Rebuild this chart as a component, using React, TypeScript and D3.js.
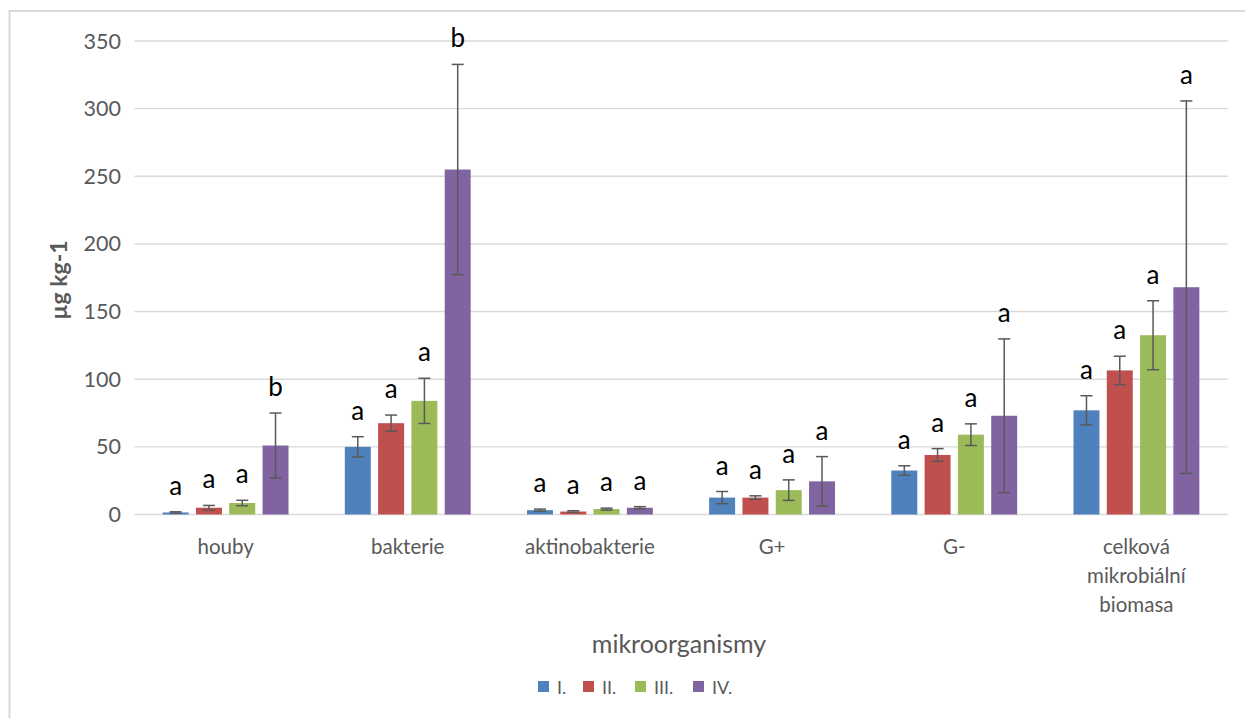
import React from "react";
import * as d3 from "d3";

// Microorganism groups (last label wraps over three lines)
const categories = ["houby", "bakterie", "aktinobakterie", "G+", "G-", "celková mikrobiální biomasa"];
const categoryLines = [["houby"], ["bakterie"], ["aktinobakterie"], ["G+"], ["G-"], ["celková", "mikrobiální", "biomasa"]];

const seriesNames = ["I.", "II.", "III.", "IV."];
const seriesColors = ["#4f81bd", "#c0504d", "#9bbb59", "#8064a2"];

// Means (µg kg-1)
const valuesI = [1.5, 50, 3.2, 12.5, 32.5, 77];
const valuesII = [5, 67.5, 2.2, 12.5, 44, 106.5];
const valuesIII = [8.5, 84, 4, 18, 59, 132.5];
const valuesIV = [51, 255, 5, 24.5, 73, 168];

// Error bar half-lengths
const errI = [0.5, 7.5, 0.8, 4.5, 3.5, 10.8];
const errII = [1.7, 6, 0.6, 1.3, 4.7, 10.5];
const errIII = [2, 16.7, 0.7, 7.6, 8, 25.5];
const errIV = [24, 77.7, 0.8, 18.3, 56.8, 137.7];

// Significance letters
const lettersI = ["a", "a", "a", "a", "a", "a"];
const lettersII = ["a", "a", "a", "a", "a", "a"];
const lettersIII = ["a", "a", "a", "a", "a", "a"];
const lettersIV = ["b", "b", "a", "a", "a", "a"];

const yTicks = [0, 50, 100, 150, 200, 250, 300, 350];

const seriesValues = [valuesI, valuesII, valuesIII, valuesIV];
const seriesErrors = [errI, errII, errIII, errIV];
const seriesLetters = [lettersI, lettersII, lettersIII, lettersIV];

const W = 1245;
const H = 718;
const FONT = "Lato, 'Open Sans', sans-serif";
const GREY = "#595959";

export default function App() {
  const plotLeft = 134.5;
  const plotRight = 1227.5;
  const y = d3.scaleLinear().domain([0, 350]).range([514.5, 41]);
  const x = d3.scaleBand<string>().domain(categories).range([plotLeft, plotRight]).paddingInner(0).paddingOuter(0);
  const half = 66.6;
  const xs = d3
    .scaleBand<string>()
    .domain(seriesNames)
    .range([-half, half])
    .paddingInner(0.22)
    .paddingOuter(0.11);

  const legendX = [538, 583, 635, 693];

  return (
    <svg
      width={W}
      height={H}
      style={{ position: "absolute", left: 0, top: 0, background: "#fff" }}
      fontFamily={FONT}
    >
      <rect x={0} y={0} width={W} height={H} fill="#fff" />
      {/* chart frame (extends past the right and bottom edges) */}
      <rect x={9.5} y={11} width={W + 20} height={H + 20} fill="none" stroke="#d9d9d9" strokeWidth={2} />

      {/* gridlines */}
      {yTicks.map((t) => (
        <line
          key={"g" + t}
          x1={plotLeft}
          x2={plotRight}
          y1={y(t)}
          y2={y(t)}
          stroke="#d9d9d9"
          strokeWidth={1.4}
        />
      ))}

      {/* y tick labels */}
      {yTicks.map((t) => (
        <text
          key={"t" + t}
          x={121}
          y={y(t)}
          dy="0.35em"
          textAnchor="end"
          fontSize={21.5}
          fill={GREY}
        >
          {t}
        </text>
      ))}

      {/* y axis title */}
      <text
        transform={`translate(67,280) rotate(-90)`}
        textAnchor="middle"
        fontSize={23}
        fontWeight="bold"
        fill={GREY}
      >
        µg kg-1
      </text>

      {/* bars, error bars and letters */}
      {categories.map((c, ci) => {
        const cx = (x(c) as number) + x.bandwidth() / 2;
        return (
          <g key={c}>
            {seriesNames.map((s, si) => {
              const v = seriesValues[si][ci];
              const e = seriesErrors[si][ci];
              const bx = cx + (xs(s) as number);
              const bw = xs.bandwidth();
              const mx = bx + bw / 2;
              const top = y(v + e);
              const bot = y(Math.max(0, v - e));
              return (
                <g key={s}>
                  <rect x={bx} y={y(v)} width={bw} height={y(0) - y(v)} fill={seriesColors[si]} />
                  <line x1={mx} x2={mx} y1={top} y2={bot} stroke="#595959" strokeWidth={1.5} />
                  <line x1={mx - 6} x2={mx + 6} y1={top} y2={top} stroke="#595959" strokeWidth={1.5} />
                  <line x1={mx - 6} x2={mx + 6} y1={bot} y2={bot} stroke="#595959" strokeWidth={1.5} />
                  <text x={mx} y={top - 17} textAnchor="middle" fontSize={26} fill="#000">
                    {seriesLetters[si][ci]}
                  </text>
                </g>
              );
            })}
            {categoryLines[ci].map((ln, li) => (
              <text
                key={ln}
                x={cx}
                y={554 + li * 29}
                textAnchor="middle"
                fontSize={20.5}
                fill={GREY}
              >
                {ln}
              </text>
            ))}
          </g>
        );
      })}

      {/* x axis title */}
      <text x={679} y={653} textAnchor="middle" fontSize={25} fill={GREY}>
        mikroorganismy
      </text>

      {/* legend */}
      {seriesNames.map((s, si) => (
        <g key={"l" + s}>
          <rect x={legendX[si]} y={681} width={11} height={11} fill={seriesColors[si]} />
          <text x={legendX[si] + 19} y={693.5} fontSize={18} fill={GREY}>
            {s}
          </text>
        </g>
      ))}
    </svg>
  );
}
